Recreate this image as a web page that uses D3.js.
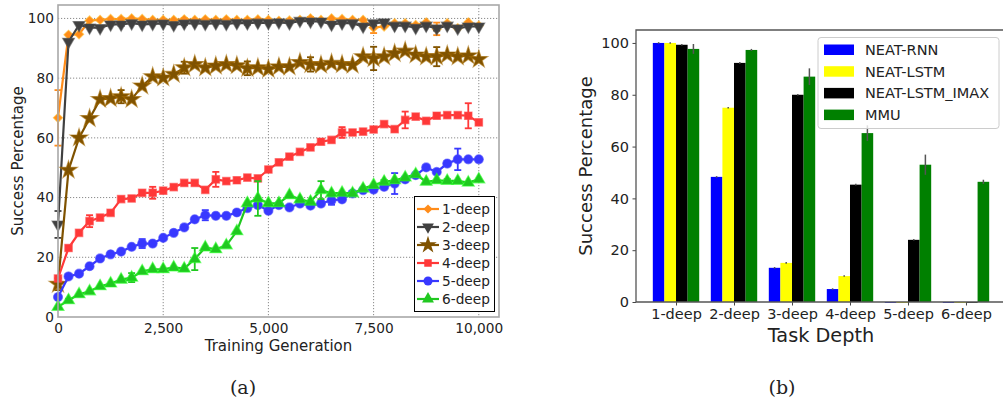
<!DOCTYPE html>
<html>
<head>
<meta charset="utf-8">
<script src="https://cdn.jsdelivr.net/npm/d3@7"></script>
<style>
  body { margin: 0; background: #fff; }
  svg text { font-family: 'DejaVu Sans', sans-serif; fill: #222; }
</style>
</head>
<body>
<svg></svg>
<script>
var width = 1003;
var height = 407;

// (a) success per training generation
var generations = [0, 250, 500, 750, 1000, 1250, 1500, 1750, 2000, 2250, 2500, 2750, 3000, 3250,
  3500, 3750, 4000, 4250, 4500, 4750, 5000, 5250, 5500, 5750, 6000, 6250, 6500, 6750, 7000,
  7250, 7500, 7750, 8000, 8250, 8500, 8750, 9000, 9250, 9500, 9750, 10000];

var deep1 = [66.7, 94.5, 94.7, 99.3, 99.5, 99.8, 99.8, 100, 99.8, 99.5, 99.5, 99.5, 99.7, 99.5,
  99.7, 99.5, 99.7, 99.5, 99.5, 99.7, 99.5, 99.2, 99.3, 99.5, 100, 99.5, 100, 99.8, 99.5,
  99.5, 96.9, 97.3, 98.4, 98.4, 97.8, 98.7, 96.5, 98.4, 96.7, 98.7, 97.6];
var deep2 = [31, 92.2, 97.8, 97, 96.8, 98, 98, 98.4, 98, 98.2, 98.3, 97.8, 98.3, 98.4,
  98.2, 98.4, 98.2, 98.5, 98.4, 98.6, 98.5, 98.7, 98.4, 99.2, 99, 99, 98, 98.4, 98.4,
  97.3, 98.4, 98.7, 97.6, 97.6, 96.9, 97.6, 96.7, 97.6, 96.7, 97.3, 97.3];
var deep3 = [11, 49.2, 60, 66.5, 72.9, 73.2, 73.8, 72.9, 77.4, 80.5, 80.1, 81.3, 83.5, 84.6,
  83.5, 84.1, 84.6, 84.2, 83.3, 83.5, 83, 83.8, 83.8, 85.3, 84.6, 84.4, 85, 84.6, 84.4,
  87.2, 86.6, 87.2, 88.3, 89.1, 87.8, 87.2, 87.2, 87.8, 87.2, 87.5, 86.3];
var deep4 = [12.9, 23.1, 28.2, 32.1, 33.3, 34.9, 39.5, 39.7, 41.6, 41.6, 42.3, 43.5, 44.9, 44.9,
  42.6, 46.1, 45.5, 45.8, 46.7, 46.4, 49.4, 51.8, 53.7, 55.3, 56.8, 58.7, 59.3, 61.8, 61.8,
  62.1, 62.8, 64.6, 62.9, 66, 67.1, 65.7, 67.4, 67.6, 67.6, 67.4, 65.2];
var deep5 = [6.7, 13.6, 14.5, 17, 19.6, 21, 21.9, 23.5, 24.6, 24.6, 26.5, 28.2, 30, 32.7,
  34.1, 33.9, 33.9, 35, 36.5, 37.5, 35.6, 37.5, 36.7, 38, 37.3, 38, 39.1, 39.4, 41.4,
  42.5, 42.7, 43.6, 44.7, 46.1, 47.5, 50.1, 48.6, 51.4, 52.8, 52.8, 52.8];
var deep6 = [3.4, 5.6, 7.6, 8.6, 10.3, 11.2, 12.5, 13.2, 15.3, 16, 16, 16.6, 16.2, 19.4,
  23.3, 22.7, 24, 28.7, 38.1, 39.7, 38.1, 38.1, 40.8, 39.4, 38.6, 42.5, 41.4, 41.6, 41.4,
  43, 44.2, 45.3, 45.8, 46.7, 47.8, 45.3, 45.8, 45.6, 45.6, 45, 46.1];

// error bars: [point index, half length]
var deep1Err = [[0, 9.3], [6, 0.4], [12, 0.4], [18, 0.4], [24, 0.5], [30, 1.8], [36, 2.1]];
var deep2Err = [[0, 4.5], [6, 0.5], [12, 0.5], [18, 0.5], [24, 0.6], [30, 0.8], [36, 0.8]];
var deep3Err = [[0, 2], [6, 2.2], [12, 2], [18, 2.3], [24, 2.4], [30, 3.9], [36, 3.2]];
var deep4Err = [[3, 2], [9, 2], [15, 2.5], [21, 0.6], [27, 1.8], [33, 2.8], [39, 4.2]];
var deep5Err = [[2, 0.5], [8, 1.5], [14, 1.7], [20, 0.5], [26, 1.5], [32, 3.5], [38, 3.6]];
var deep6Err = [[1, 0.5], [7, 1.5], [13, 3.7], [19, 5.8], [25, 3], [31, 0.6], [37, 0.6]];

var seriesNames = ['1-deep', '2-deep', '3-deep', '4-deep', '5-deep', '6-deep'];
var xTicks = [0, 2500, 5000, 7500, 10000];
var yTicks = [0, 20, 40, 60, 80, 100];

// (b) success per task depth
var depths = ['1-deep', '2-deep', '3-deep', '4-deep', '5-deep', '6-deep'];
var methods = ['NEAT-RNN', 'NEAT-LSTM', 'NEAT-LSTM_IMAX', 'MMU'];
var neatRnn = [100, 48.3, 13.2, 5, 0, 0];
var neatLstm = [100, 75, 15.1, 10, 0, 0];
var neatLstmImax = [99.3, 92.3, 80, 45.3, 24, 0];
var mmu = [97.7, 97.3, 87, 65.2, 53, 46.4];
var neatRnnErr = [0.3, 0.3, 0.3, 0.3, 0, 0];
var neatLstmErr = [0.3, 0.3, 0.3, 0.3, 0, 0];
var neatLstmImaxErr = [0.3, 0.3, 0.3, 0.3, 0.3, 0];
var mmuErr = [1.9, 0.4, 3.2, 3, 3.9, 0.8];

var svg = d3.select('svg')
      .attr('width', width)
      .attr('height', height);

svg.append('rect')
  .attr('width', width)
  .attr('height', height)
  .attr('fill', '#fff');

//---------------- chart (a) ----------------
var xScale = d3.scaleLinear()
        .domain([0, 10480])
        .range([58, 499]);

var yScale = d3.scaleLinear()
        .domain([0, 104.5])
        .range([317, 5]);

var lineSeries = [
  {name: seriesNames[0], values: deep1, err: deep1Err, color: '#ff8c1a', symbol: d3.symbolSquare, size: 42, rotate: 45},
  {name: seriesNames[1], values: deep2, err: deep2Err, color: '#404040', symbol: d3.symbolTriangle, size: 60, rotate: 180},
  {name: seriesNames[2], values: deep3, err: deep3Err, color: '#7f5200', symbol: d3.symbolStar, size: 95, rotate: 0},
  {name: seriesNames[3], values: deep4, err: deep4Err, color: '#ff3838', symbol: d3.symbolSquare, size: 56, rotate: 0},
  {name: seriesNames[4], values: deep5, err: deep5Err, color: '#3838ff', symbol: d3.symbolCircle, size: 64, rotate: 0},
  {name: seriesNames[5], values: deep6, err: deep6Err, color: '#20c820', symbol: d3.symbolTriangle, size: 62, rotate: 0}
];

var chartA = svg.append('g');

//grid
chartA.append('g')
  .selectAll('line')
  .data(xTicks.slice(1))
  .enter()
  .append('line')
    .attr('x1', d => xScale(d))
    .attr('x2', d => xScale(d))
    .attr('y1', 5)
    .attr('y2', 317)
    .attr('stroke', '#8a8a8a')
    .attr('stroke-width', 1)
    .attr('stroke-dasharray', '1.2,1.8');

chartA.append('g')
  .selectAll('line')
  .data(yTicks.slice(1))
  .enter()
  .append('line')
    .attr('x1', 58)
    .attr('x2', 499)
    .attr('y1', d => yScale(d))
    .attr('y2', d => yScale(d))
    .attr('stroke', '#8a8a8a')
    .attr('stroke-width', 1)
    .attr('stroke-dasharray', '1.2,1.8');

var line = d3.line()
        .x((d, i) => xScale(generations[i]))
        .y(d => yScale(d));

lineSeries.forEach(function(s) {
  var g = chartA.append('g');

  g.append('path')
    .datum(s.values)
    .attr('d', line)
    .attr('fill', 'none')
    .attr('stroke', s.color)
    .attr('stroke-width', 2.2);

  var bars = g.selectAll('.err')
    .data(s.err)
    .enter()
    .append('g')
      .attr('stroke', s.color)
      .attr('stroke-width', 1.8);
  bars.append('line')
    .attr('x1', d => xScale(generations[d[0]]))
    .attr('x2', d => xScale(generations[d[0]]))
    .attr('y1', d => yScale(s.values[d[0]] - d[1]))
    .attr('y2', d => yScale(s.values[d[0]] + d[1]));
  [-1, 1].forEach(function(sign) {
    bars.append('line')
      .attr('x1', d => xScale(generations[d[0]]) - 3.5)
      .attr('x2', d => xScale(generations[d[0]]) + 3.5)
      .attr('y1', d => yScale(s.values[d[0]] + sign * d[1]))
      .attr('y2', d => yScale(s.values[d[0]] + sign * d[1]));
  });

  g.selectAll('.marker')
    .data(s.values)
    .enter()
    .append('path')
      .attr('d', d3.symbol().type(s.symbol).size(s.size))
      .attr('transform', (d, i) => `translate(${xScale(generations[i])},${yScale(d)}) rotate(${s.rotate})`)
      .attr('fill', s.color)
      .attr('stroke', d3.color(s.color).brighter(0.7))
      .attr('stroke-opacity', 0.6)
      .attr('stroke-width', 1.2);
});

//frame
chartA.append('rect')
  .attr('x', 58)
  .attr('y', 5)
  .attr('width', 441)
  .attr('height', 312)
  .attr('fill', 'none')
  .attr('stroke', '#a8a8a8')
  .attr('stroke-width', 1.6);

var xAxis = d3.axisBottom(xScale)
        .tickValues(xTicks)
        .tickFormat(d3.format(','))
        .tickSize(0)
        .tickPadding(6);

var yAxis = d3.axisLeft(yScale)
        .tickValues(yTicks)
        .tickSize(0)
        .tickPadding(4);

chartA.append('g')
  .attr('transform', 'translate(0, 317)')
  .call(xAxis)
  .call(g => g.select('.domain').remove())
  .selectAll('text')
    .style('font-size', '13.7px')
    .attr('fill', '#222');

chartA.append('g')
  .attr('transform', 'translate(58, 0)')
  .call(yAxis)
  .call(g => g.select('.domain').remove())
  .selectAll('text')
    .style('font-size', '13.7px')
    .attr('fill', '#222');

//x-axis label
chartA.append('text')
  .attr('x', 278.5)
  .attr('y', 351)
  .style('text-anchor', 'middle')
  .style('font-size', '15px')
  .text('Training Generation');

//y-axis label
chartA.append('text')
  .attr('transform', 'rotate(-90)')
  .attr('x', -161)
  .attr('y', 23)
  .style('text-anchor', 'middle')
  .style('font-size', '15px')
  .text('Success Percentage');

//legend
var legendA = chartA.append('g');
legendA.append('rect')
  .attr('x', 414.5)
  .attr('y', 196.5)
  .attr('width', 80)
  .attr('height', 115)
  .attr('fill', '#fff')
  .attr('stroke', '#000')
  .attr('stroke-width', 1);

var legendItems = legendA.selectAll('.item')
  .data(lineSeries)
  .enter()
  .append('g')
    .attr('transform', (d, i) => `translate(0, ${209 + i * 18})`);

legendItems.append('line')
  .attr('x1', 417)
  .attr('x2', 439)
  .attr('stroke', d => d.color)
  .attr('stroke-width', 2.2);

legendItems.append('path')
  .attr('d', d => d3.symbol().type(d.symbol).size(d.size)())
  .attr('transform', d => `translate(428,0) rotate(${d.rotate})`)
  .attr('fill', d => d.color);

legendItems.append('text')
  .attr('x', 442)
  .attr('y', 5)
  .style('font-size', '13.7px')
  .text(d => d.name);

//---------------- chart (b) ----------------
var barX = d3.scaleLinear()
        .domain([-0.69, 5.69])
        .range([636, 1006]);

var barY = d3.scaleLinear()
        .domain([0, 105])
        .range([302, 30]);

var barSeries = [
  {name: methods[0], values: neatRnn, err: neatRnnErr, color: '#0000ff'},
  {name: methods[1], values: neatLstm, err: neatLstmErr, color: '#ffff00'},
  {name: methods[2], values: neatLstmImax, err: neatLstmImaxErr, color: '#000000'},
  {name: methods[3], values: mmu, err: mmuErr, color: '#008000'}
];

var chartB = svg.append('g');

barSeries.forEach(function(s, j) {
  var offset = (j - 1.5) * 0.2;
  chartB.append('g')
    .selectAll('rect')
    .data(s.values)
    .enter()
    .append('rect')
      .attr('x', (d, i) => barX(i + offset - 0.1))
      .attr('width', barX(0.2) - barX(0))
      .attr('y', d => barY(d))
      .attr('height', d => Math.max(barY(0) - barY(d), 0.8))
      .attr('fill', s.color);

  chartB.append('g')
    .selectAll('line')
    .data(s.values)
    .enter()
    .append('line')
      .attr('x1', (d, i) => barX(i + offset))
      .attr('x2', (d, i) => barX(i + offset))
      .attr('y1', (d, i) => barY(d - s.err[i]))
      .attr('y2', (d, i) => barY(d + s.err[i]))
      .attr('stroke', '#555')
      .attr('stroke-width', 1.5);
});

var barXAxis = d3.axisBottom(barX)
        .tickValues(d3.range(depths.length))
        .tickFormat(i => depths[i])
        .tickSize(3.5)
        .tickPadding(3);

var barYAxis = d3.axisLeft(barY)
        .tickValues(yTicks)
        .tickSize(3.5)
        .tickPadding(3.5);

chartB.append('g')
  .attr('transform', 'translate(0, 302)')
  .call(barXAxis)
  .call(g => g.select('.domain').remove())
  .call(g => g.selectAll('line').attr('stroke', '#444'))
  .selectAll('text')
    .style('font-size', '14.5px')
    .attr('fill', '#222');

chartB.append('g')
  .attr('transform', 'translate(636, 0)')
  .call(barYAxis)
  .call(g => g.select('.domain').remove())
  .call(g => g.selectAll('line').attr('stroke', '#444'))
  .selectAll('text')
    .style('font-size', '14.5px')
    .attr('fill', '#222');

//spines
chartB.append('path')
  .attr('d', 'M1006,30H636V302H1006')
  .attr('fill', 'none')
  .attr('stroke', '#555')
  .attr('stroke-width', 1.3);

chartB.append('text')
  .attr('x', 821)
  .attr('y', 342)
  .style('text-anchor', 'middle')
  .style('font-size', '19.3px')
  .text('Task Depth');

chartB.append('text')
  .attr('transform', 'rotate(-90)')
  .attr('x', -166)
  .attr('y', 592)
  .style('text-anchor', 'middle')
  .style('font-size', '18px')
  .text('Success Percentage');

//legend
var legendB = chartB.append('g');
legendB.append('rect')
  .attr('x', 818)
  .attr('y', 37.5)
  .attr('width', 181)
  .attr('height', 91)
  .attr('rx', 3)
  .attr('fill', '#fff')
  .attr('fill-opacity', 0.8)
  .attr('stroke', '#ccc')
  .attr('stroke-width', 1);

var legendBItems = legendB.selectAll('.item')
  .data(barSeries)
  .enter()
  .append('g')
    .attr('transform', (d, i) => `translate(0, ${49.5 + i * 21.7})`);

legendBItems.append('rect')
  .attr('x', 824)
  .attr('y', -5)
  .attr('width', 30)
  .attr('height', 10.5)
  .attr('fill', d => d.color);

legendBItems.append('text')
  .attr('x', 865)
  .attr('y', 5.5)
  .style('font-size', '14.5px')
  .text(d => d.name);

//captions
svg.append('text')
  .attr('x', 243)
  .attr('y', 394)
  .style('text-anchor', 'middle')
  .style('font-family', "'DejaVu Serif', serif")
  .style('font-size', '19px')
  .text('(a)');

svg.append('text')
  .attr('x', 782)
  .attr('y', 394)
  .style('text-anchor', 'middle')
  .style('font-family', "'DejaVu Serif', serif")
  .style('font-size', '19px')
  .text('(b)');
</script>
</body>
</html>
